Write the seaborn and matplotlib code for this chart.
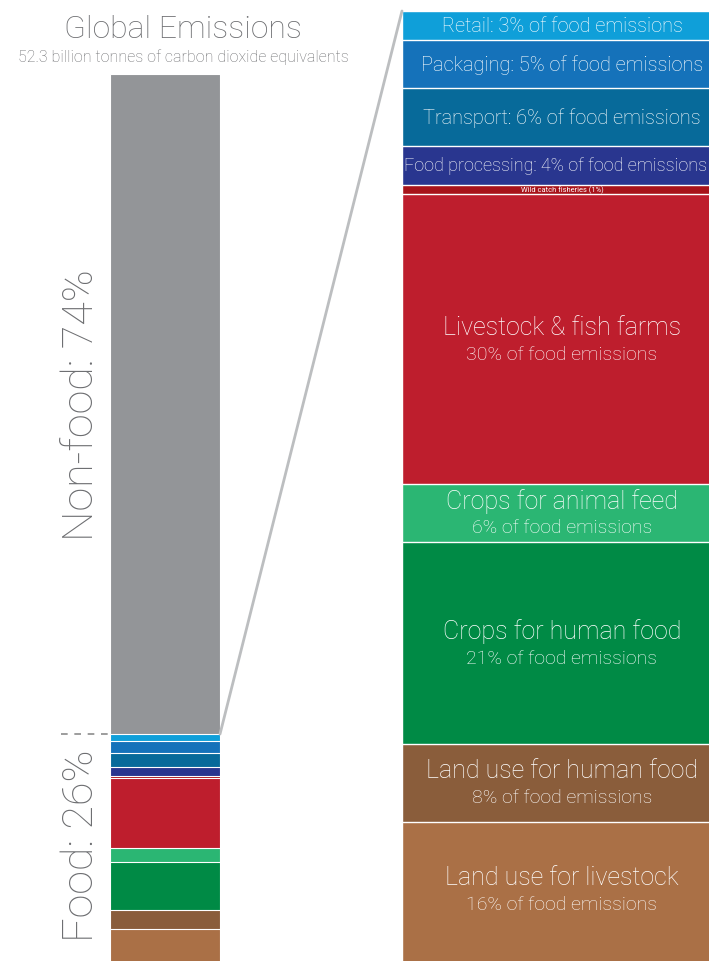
import matplotlib
matplotlib.use("Agg")
import matplotlib.pyplot as plt
from matplotlib.patches import ConnectionPatch
import seaborn as sns
import pandas as pd
import numpy as np

# --- data -------------------------------------------------------------
global_parts = ["Food", "Non-food"]
global_share = [26, 74]          # % of global emissions

food_parts = [
    "Retail", "Packaging", "Transport", "Food processing",
    "Wild catch fisheries", "Livestock & fish farms",
    "Crops for animal feed", "Crops for human food",
    "Land use for human food", "Land use for livestock",
]
food_share = [3, 5, 6, 4, 1, 30, 6, 21, 8, 16]   # % of food emissions

food_colors = [
    "#0f9fd9", "#1572ba", "#076a9a", "#29368f",
    "#a8131a", "#be1e2d",
    "#2bb673", "#008a45",
    "#8a5d3b", "#aa7046",
]
nonfood_color = "#939598"

# labels drawn inside the food breakdown bar
single_line = {"Retail", "Packaging", "Transport", "Food processing"}
label_nudge = {"Land use for livestock": 1.0}   # vertical shift, in % units
label_size = {"Food processing": 13}            # long label, kept inside figure
label_shift_x = {"Food processing": -0.016}

# --- style ------------------------------------------------------------
sns.set_theme(style="white")
plt.rcParams["font.family"] = ["Roboto", "DejaVu Sans"]
TEXT_GREY = "#6d6e71"

fig = plt.figure(figsize=(7.09, 9.62), dpi=100)
W, H = 709, 962

def axes_px(x0, x1, y_top, y_bottom):
    """Axes rectangle given in pixel positions (top-left origin)."""
    return fig.add_axes([x0 / W, 1 - y_bottom / H, (x1 - x0) / W, (y_bottom - y_top) / H])

# Stacked bars: draw cumulative tops, tallest first, so each later
# (shorter) bar covers the lower part of the previous one.
def stacked_bar(ax, names, values, colors, lw):
    vals = np.array(values, dtype=float)
    tops = np.cumsum(vals[::-1])[::-1]          # first item ends up on top
    df = pd.DataFrame({"bar": "all", "segment": names, "top": tops})
    sns.barplot(data=df, x="bar", y="top", hue="segment", hue_order=names,
                palette=dict(zip(names, colors)), dodge=False, width=0.8,
                saturation=1, errorbar=None, legend=False, ax=ax,
                edgecolor="white", linewidth=lw)
    ax.set_xlim(-0.4, 0.4)
    ax.set_ylim(0, 100)
    ax.axis("off")
    return tops

# --- left: global emissions bar --------------------------------------
ax_l = axes_px(110, 220, 75, 967)
scale = global_share[0] / 100
left_names = ["Non-food"] + food_parts
left_vals = [global_share[1]] + [v * scale for v in food_share]
stacked_bar(ax_l, left_names, left_vals, [nonfood_color] + food_colors, 0.8)

ax_l.text(-0.61, global_share[0] + global_share[1] / 2,
          f"Non-food: {global_share[1]}%", rotation=90, ha="center", va="center",
          fontsize=31, color=TEXT_GREY, fontweight="light", clip_on=False)
ax_l.text(-0.61, global_share[0] / 2 + 0.6,
          f"Food: {global_share[0]}%", rotation=90, ha="center", va="center",
          fontsize=31, color=TEXT_GREY, fontweight="light", clip_on=False)
ax_l.plot([-0.76, -0.41], [global_share[0]] * 2, ls=(0, (4, 4)), color="#8c8c8c",
          lw=1.2, clip_on=False)

fig.text(183 / W, 1 - 29 / H, "Global Emissions", ha="center", va="center",
         fontsize=23, color=TEXT_GREY, fontweight="light")
fig.text(183 / W, 1 - 57 / H, "52.3 billion tonnes of carbon dioxide equivalents",
         ha="center", va="center", fontsize=11.5, color=TEXT_GREY, fontweight="light")

# --- right: breakdown of food emissions ------------------------------
ax_r = axes_px(402, 722, 12, 977)
tops = stacked_bar(ax_r, food_parts, food_share, food_colors, 1.0)

for name, share, top in zip(food_parts, food_share, tops):
    mid = top - share / 2 + label_nudge.get(name, 0)
    x = label_shift_x.get(name, 0)
    if name in single_line:
        ax_r.text(x, mid, f"{name}: {share}% of food emissions", ha="center",
                  va="center", fontsize=label_size.get(name, 14.4), color="white",
                  fontweight="light", clip_on=False)
    elif share < 2:
        ax_r.text(x, mid, f"{name} ({share}%)", ha="center", va="center",
                  fontsize=5.4, color="white", clip_on=False)
    else:
        ax_r.text(x, mid + 1.3, name, ha="center", va="center",
                  fontsize=18, color="white", fontweight="light", clip_on=False)
        ax_r.text(x, mid - 1.5, f"{share}% of food emissions", ha="center",
                  va="center", fontsize=14, color="white", fontweight="light",
                  clip_on=False)

# link from the food slice to its breakdown
link = ConnectionPatch(xyA=(0.4, global_share[0]), coordsA=ax_l.transData,
                       xyB=(-0.4, 100), coordsB=ax_r.transData,
                       color="#bcbec0", lw=2)
fig.add_artist(link)

fig.savefig("out.png", dpi=100)
